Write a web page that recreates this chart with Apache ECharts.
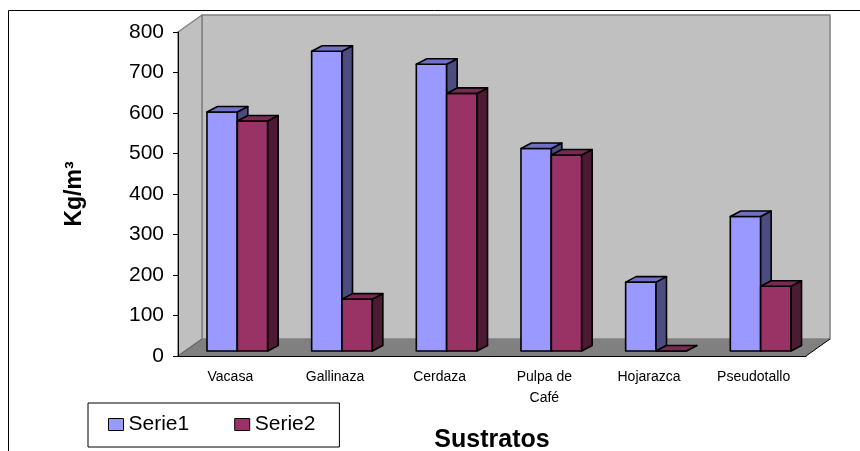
<!DOCTYPE html>
<html>
<head>
<meta charset="utf-8">
<script src="https://cdn.jsdelivr.net/npm/echarts@6/dist/echarts.min.js"></script>
<style>
  html, body { margin: 0; padding: 0; background: #fff; }
  #chart { width: 860px; height: 451px; }
</style>
</head>
<body>
<div id="chart"></div>
<script>
// Sustrato data (kg/m³)
const categories = ['Vacasa', 'Gallinaza', 'Cerdaza', 'Pulpa de\nCafé', 'Hojarazca', 'Pseudotallo'];
const serie1 = [590, 740, 708, 500, 170, 332];
const serie2 = [568, 128, 636, 484, 0, 160];
const yMin = 0, yMax = 800, yStep = 100;

const FONT = 'Arial, "Liberation Sans", sans-serif';

// Pseudo-3D depth of the plot box and of each column (pixels)
const WALL_DX = 24, WALL_DY = -17;
const BAR_OX = 7, BAR_OY = -5;      // column front face inset from the floor front edge
const BAR_DX = 10.5, BAR_DY = -5.5; // column depth
const BAR_FRAC = 0.29;              // column width as a share of the category band

const palette = {
  Serie1: { front: '#9999FF', top: '#7070C8', side: '#4C4C80' },
  Serie2: { front: '#993366', top: '#7A2952', side: '#4D1A33' }
};

function poly(points, fill, stroke, lw) {
  return {
    type: 'polygon',
    shape: { points: points },
    style: { fill: fill, stroke: stroke, lineWidth: lw, lineJoin: 'round' }
  };
}

// Walls and floor of the 3D box
function renderBox(params, api) {
  const cs = params.coordSys;
  const x0 = cs.x, x1 = cs.x + cs.width;
  const yTop = cs.y, yBot = cs.y + cs.height;
  const bx0 = x0 + WALL_DX, bx1 = x1 + WALL_DX;
  const byTop = yTop + WALL_DY, byBot = yBot + WALL_DY;
  return {
    type: 'group',
    children: [
      // back wall
      poly([[bx0, byTop], [bx1, byTop], [bx1, byBot], [bx0, byBot]], '#C0C0C0', '#808080', 1.5),
      // left wall
      poly([[x0, yTop], [bx0, byTop], [bx0, byBot], [x0, yBot]], '#C0C0C0', '#808080', 1.5),
      // floor
      poly([[x0, yBot], [x1, yBot], [bx1, byBot], [bx0, byBot]], '#808080', null, 0),
      {
        type: 'line',
        shape: { x1: x1, y1: yBot, x2: bx1, y2: byBot },
        style: { stroke: '#000', lineWidth: 1 }
      },
      {
        type: 'line',
        shape: { x1: x0, y1: yBot, x2: bx0, y2: byBot },
        style: { stroke: '#606060', lineWidth: 1 }
      }
    ]
  };
}

// One 3D column per category; slot 0 sits left of the band centre, slot 1 right
function makeColumn(slot, colors) {
  return function (params, api) {
    const cat = api.value(0);
    const val = api.value(1);
    const base = api.coord([cat, 0]);
    const top = api.coord([cat, val]);
    const bw = api.size([1, 0])[0] * BAR_FRAC;
    const xl = base[0] + BAR_OX + (slot === 0 ? -bw : 0);
    const xr = xl + bw;
    const yb = base[1] + BAR_OY;
    const yt = top[1] + BAR_OY;
    const lw = 1.6;
    return {
      type: 'group',
      children: [
        poly([[xl, yb], [xr, yb], [xr, yt], [xl, yt]], colors.front, '#000', lw),
        poly([[xr, yb], [xr + BAR_DX, yb + BAR_DY], [xr + BAR_DX, yt + BAR_DY], [xr, yt]], colors.side, '#000', lw),
        poly([[xl, yt], [xr, yt], [xr + BAR_DX, yt + BAR_DY], [xl + BAR_DX, yt + BAR_DY]], colors.top, '#000', lw)
      ]
    };
  };
}

const chart = echarts.init(document.getElementById('chart'), null, { renderer: 'canvas' });

chart.setOption({
  backgroundColor: '#fff',
  animation: false,
  graphic: [{
    type: 'rect',
    shape: { x: 8.5, y: 10.5, width: 900, height: 500 },
    style: { fill: null, stroke: '#000', lineWidth: 1 },
    silent: true,
    z: 0
  }],
  grid: { left: 178, right: 54, top: 32, bottom: 95, containLabel: false, outerBoundsMode: 'none' },
  legend: {
    left: 88,
    top: 403,
    orient: 'horizontal',
    borderColor: '#000',
    borderWidth: 1,
    padding: [11, 24, 12, 20],
    itemWidth: 15,
    itemHeight: 12,
    itemGap: 45,
    icon: 'rect',
    textStyle: { fontFamily: FONT, fontSize: 21, color: '#000' },
    data: [
      { name: 'Serie1', itemStyle: { color: palette.Serie1.front, borderColor: '#000', borderWidth: 1 } },
      { name: 'Serie2', itemStyle: { color: palette.Serie2.front, borderColor: '#000', borderWidth: 1 } }
    ]
  },
  xAxis: {
    type: 'category',
    data: categories,
    z: 10,
    name: 'Sustratos',
    nameLocation: 'middle',
    nameGap: 72,
    nameTextStyle: { fontFamily: FONT, fontSize: 25, fontWeight: 'bold', color: '#000' },
    axisLine: { lineStyle: { color: '#000', width: 1 } },
    axisTick: { length: 6, lineStyle: { color: '#000' } },
    axisLabel: { fontFamily: FONT, fontSize: 14, color: '#000', margin: 11, lineHeight: 21, interval: 0 },
    splitLine: { show: false }
  },
  yAxis: {
    type: 'value',
    min: yMin,
    max: yMax,
    interval: yStep,
    z: 10,
    name: 'Kg/m³',
    nameLocation: 'middle',
    nameGap: 92,
    nameTextStyle: { fontFamily: FONT, fontSize: 23, fontWeight: 'bold', color: '#000' },
    axisLine: { show: true, lineStyle: { color: '#000', width: 1 } },
    axisTick: { show: true, length: 5, lineStyle: { color: '#000' } },
    axisLabel: { fontFamily: FONT, fontSize: 21, color: '#000', margin: 14 },
    splitLine: { show: false }
  },
  series: [
    {
      type: 'custom',
      name: 'box',
      renderItem: renderBox,
      data: [[0, 0]],
      encode: { x: 0, y: 1 },
      silent: true,
      z: 1
    },
    {
      type: 'custom',
      name: 'Serie1',
      itemStyle: { color: palette.Serie1.front },
      renderItem: makeColumn(0, palette.Serie1),
      data: serie1.map((v, i) => [i, v]),
      encode: { x: 0, y: 1 },
      z: 2
    },
    {
      type: 'custom',
      name: 'Serie2',
      itemStyle: { color: palette.Serie2.front },
      renderItem: makeColumn(1, palette.Serie2),
      data: serie2.map((v, i) => [i, v]),
      encode: { x: 0, y: 1 },
      z: 3
    }
  ]
});
</script>
</body>
</html>
